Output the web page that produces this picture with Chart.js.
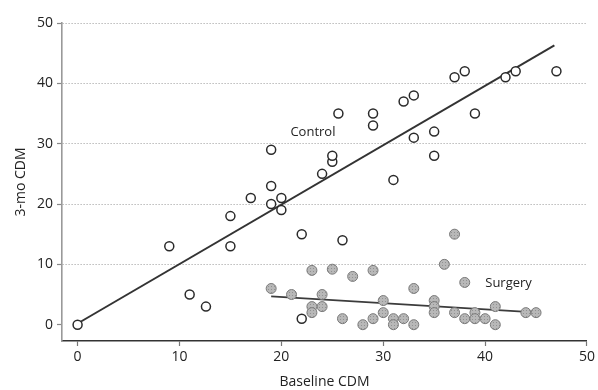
<!DOCTYPE html>
<html lang="en">
<head>
<meta charset="UTF-8">
<title>Baseline vs 3-mo CDM</title>
<script src="https://cdn.jsdelivr.net/npm/chart.js"></script>
<style>
  body { margin: 0; background: #fff; }
  div { width: 598px; height: 390px; }
</style>
</head>
<body>
<div><canvas id="myChart" width="598" height="390"></canvas></div>
<script>
// Control group (open circles)
const controlBaseline = [0, 9, 11, 12.6, 15, 15, 17, 19, 19, 19, 20, 20, 22, 22, 24, 25, 25, 25.6, 26, 29, 29, 31, 32, 33, 33, 35, 35, 37, 38, 39, 42, 43, 47];
const control3mo      = [0, 13, 5, 3, 13, 18, 21, 20, 23, 29, 21, 19, 15, 1, 25, 27, 28, 35, 14, 35, 33, 24, 37, 38, 31, 32, 28, 41, 42, 35, 41, 42, 42];

// Surgery group (filled circles)
const surgeryBaseline = [19, 21, 23, 25, 27, 29, 24, 24, 23, 23, 26, 28, 29, 30, 30, 31, 31, 32, 33, 33, 35, 35, 35, 36, 37, 38, 37, 38, 39, 39, 40, 41, 41, 44, 45];
const surgery3mo      = [6, 5, 9, 9.2, 8, 9, 5, 3, 3, 2, 1, 0, 1, 4, 2, 1, 0, 1, 0, 6, 4, 3, 2, 10, 15, 7, 2, 1, 2, 1, 1, 3, 0, 2, 2];

// fitted lines, end points
const controlFitX = [0, 46.8];
const controlFitY = [0.2, 46.3];
const surgeryFitX = [19, 45.3];
const surgeryFitY = [4.7, 2.0];

const xTicks = [0, 10, 20, 30, 40, 50];
const yTicks = [0, 10, 20, 30, 40, 50];

const groupLabels = ['Control', 'Surgery'];
const groupLabelX = [23.1, 42.3];
const groupLabelY = [31.9, 6.9];

function toPoints(xs, ys) {
    return xs.map((x, i) => ({ x: x, y: ys[i] }));
}

Chart.defaults.font.family = "'Open Sans', sans-serif";

const ctx = document.getElementById('myChart').getContext('2d');

// dotted grey fill for the surgery markers
const pc = document.createElement('canvas');
pc.width = 3; pc.height = 3;
const pctx = pc.getContext('2d');
pctx.fillStyle = '#b8b8b8';
pctx.fillRect(0, 0, 3, 3);
pctx.fillStyle = '#929292';
pctx.fillRect(1, 1, 1, 1);
const dottedGrey = ctx.createPattern(pc, 'repeat');

const groupText = {
    id: 'groupText',
    afterDatasetsDraw(chart) {
        const c = chart.ctx;
        const x = chart.scales.x, y = chart.scales.y;
        c.save();
        c.font = "13px 'Open Sans'";
        c.fillStyle = '#222';
        c.textAlign = 'center';
        c.textBaseline = 'middle';
        groupLabels.forEach((t, i) => {
            c.fillText(t, x.getPixelForValue(groupLabelX[i]), y.getPixelForValue(groupLabelY[i]));
        });
        c.restore();
    }
};

const config = {
    type: 'scatter',
    data: {
        datasets: [
            {
                label: 'Control',
                data: toPoints(controlBaseline, control3mo),
                pointRadius: 4.5,
                pointBorderWidth: 1.5,
                pointBorderColor: '#2a2a2a',
                pointBackgroundColor: '#fff',
                order: 0
            },
            {
                label: 'Surgery',
                data: toPoints(surgeryBaseline, surgery3mo),
                pointRadius: 5,
                pointBorderWidth: 1,
                pointBorderColor: '#7a7a7a',
                pointBackgroundColor: dottedGrey,
                order: 0
            },
            {
                label: 'Control fit',
                data: toPoints(controlFitX, controlFitY),
                showLine: true,
                pointRadius: 0,
                borderColor: '#333',
                borderWidth: 2,
                order: 1
            },
            {
                label: 'Surgery fit',
                data: toPoints(surgeryFitX, surgeryFitY),
                showLine: true,
                pointRadius: 0,
                borderColor: '#3c3c3c',
                borderWidth: 1.6,
                order: 1
            }
        ]
    },
    options: {
        responsive: false,
        animation: false,
        layout: { padding: { top: 23, right: 7, left: 0, bottom: 0 } },
        plugins: {
            legend: { display: false },
            tooltip: { enabled: false }
        },
        scales: {
            x: {
                type: 'linear',
                min: -1.53,
                max: 50,
                afterBuildTicks: s => { s.ticks = xTicks.map(v => ({ value: v })); },
                afterFit: s => { s.height = 49; },
                grid: { drawOnChartArea: false, tickLength: 5, tickColor: '#777', tickWidth: 1.2 },
                border: { color: '#333', width: 1.6 },
                ticks: { font: { size: 14 }, color: '#222', padding: 3, maxRotation: 0 },
                title: {
                    display: true,
                    text: 'Baseline CDM',
                    font: { size: 14 },
                    color: '#222',
                    padding: { top: 0, bottom: 0 }
                }
            },
            y: {
                type: 'linear',
                min: -2.7,
                max: 50,
                afterBuildTicks: s => { s.ticks = yTicks.map(v => ({ value: v })); },
                afterFit: s => { s.width = 62; },
                grid: {
                    color: c => (c.tick && c.tick.value === 0) ? 'rgba(0,0,0,0)' : '#9a9a9a',
                    lineWidth: 1,
                    tickLength: 5,
                    tickColor: '#888',
                    tickWidth: 1.2
                },
                border: { color: '#999', width: 1.6, dash: [1, 2] },
                ticks: { font: { size: 14 }, color: '#222', padding: 4 },
                title: {
                    display: true,
                    text: '3-mo CDM',
                    font: { size: 14 },
                    color: '#222',
                    padding: { top: 13, bottom: 0 }
                }
            }
        }
    },
    plugins: [groupText]
};

const myChart = new Chart(ctx, config);
</script>
</body>
</html>
